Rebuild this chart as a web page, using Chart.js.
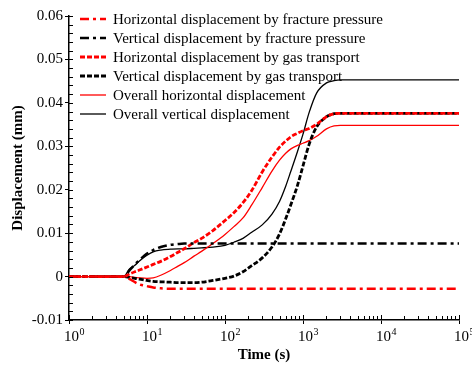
<!DOCTYPE html>
<html>
<head>
<meta charset="utf-8">
<script src="https://cdn.jsdelivr.net/npm/chart.js@4.4.1/dist/chart.umd.min.js"></script>
<style>
  html, body { margin: 0; padding: 0; background: #fff; }
  canvas { display: block; }
</style>
</head>
<body>
<canvas id="chart" width="472" height="368"></canvas>
<script>
// time (s), shared by every curve
const times = [1, 5, 6, 7, 8, 10, 12, 15, 20, 25, 30, 40, 50, 70, 100, 130, 170, 220, 300, 400,
               500, 600, 700, 850, 1000, 1200, 1500, 2000, 2500, 3000, 4000, 100000];

// displacement (mm)
const hFracture = [0, 0, -0.0006, -0.0013, -0.0018, -0.0022, -0.0025, -0.0027, -0.0028, -0.0028,
                   -0.0028, -0.0028, -0.0028, -0.0028, -0.0028, -0.0028, -0.0028, -0.0028, -0.0028, -0.0028,
                   -0.0028, -0.0028, -0.0028, -0.0028, -0.0028, -0.0028, -0.0028, -0.0028, -0.0028, -0.0028,
                   -0.0028, -0.0028];
const vFracture = [0, 0, 0.0015, 0.0028, 0.0038, 0.0053, 0.0061, 0.0068, 0.0073, 0.0075,
                   0.0076, 0.0076, 0.0076, 0.0076, 0.0076, 0.0076, 0.0076, 0.0076, 0.0076, 0.0076,
                   0.0076, 0.0076, 0.0076, 0.0076, 0.0076, 0.0076, 0.0076, 0.0076, 0.0076, 0.0076,
                   0.0076, 0.0076];
const hGas = [0, 0, 0.0006, 0.0011, 0.0015, 0.0022, 0.0028, 0.0035, 0.0046, 0.0056,
              0.0064, 0.0078, 0.0088, 0.0106, 0.0129, 0.0147, 0.0170, 0.0198, 0.0241, 0.0275,
              0.0298, 0.0312, 0.0322, 0.0330, 0.0336, 0.0341, 0.0351, 0.0368, 0.0375, 0.0376,
              0.0376, 0.0376];
const vGas = [0, 0, -0.0002, -0.0004, -0.0006, -0.0009, -0.0011, -0.0012, -0.0013, -0.0014,
              -0.0014, -0.0014, -0.0013, -0.0009, -0.0004, 0.0001, 0.0011, 0.0025, 0.0043, 0.0068,
              0.0098, 0.0133, 0.0166, 0.0210, 0.0255, 0.0305, 0.0345, 0.0368, 0.0375, 0.0376,
              0.0376, 0.0376];
const hTotal = [0, 0, 0, -0.0002, -0.0003, -0.0004, -0.0003, 0.0003, 0.0014, 0.0024,
                0.0032, 0.0047, 0.0058, 0.0076, 0.0097, 0.0115, 0.0135, 0.0165, 0.0205, 0.0243,
                0.0268, 0.0284, 0.0294, 0.0302, 0.0307, 0.0313, 0.0323, 0.0340, 0.0347, 0.0348,
                0.0348, 0.0348];
const vTotal = [0, 0, 0.0018, 0.0026, 0.0036, 0.0049, 0.0057, 0.0061, 0.0063, 0.0064,
                0.0064, 0.0065, 0.0066, 0.0068, 0.0072, 0.0079, 0.0088, 0.0102, 0.0119, 0.0144,
                0.0173, 0.0208, 0.0243, 0.0288, 0.0328, 0.0378, 0.0423, 0.0446, 0.0451, 0.0453,
                0.0453, 0.0453];

const xTicks = [1, 10, 100, 1000, 10000, 100000];
const xExponents = ['0', '1', '2', '3', '4', '5'];
const yTicks = [0.06, 0.05, 0.04, 0.03, 0.02, 0.01, 0, -0.01];

const serif = '"Liberation Serif", "Times New Roman", serif';
const toPoints = (vals) => times.map((t, i) => ({ x: t, y: vals[i] }));

function line(label, vals, color, width, dash) {
    return {
        label: label,
        data: toPoints(vals),
        borderColor: color,
        borderWidth: width,
        borderDash: dash,
        pointRadius: 0,
        fill: false,
        cubicInterpolationMode: 'monotone'
    };
}

// inner ticks + superscript x labels
const axisDecor = {
    id: 'axisDecor',
    afterDraw(chart) {
        const { ctx, chartArea: a } = chart;
        const x = chart.scales.x, y = chart.scales.y;
        ctx.save();
        ctx.strokeStyle = '#000';
        ctx.lineWidth = 1;
        ctx.beginPath();
        for (let i = -5; i <= 30; i++) {
            const py = Math.round(y.getPixelForValue(i * 0.002)) + 0.5;
            ctx.moveTo(a.left, py);
            ctx.lineTo(a.left + 4, py);
        }
        xTicks.forEach((v, k) => {
            const top = k === xTicks.length - 1 ? 1 : 9;
            for (let m = 1; m <= top; m++) {
                const px = Math.round(x.getPixelForValue(v * m)) + 0.5;
                ctx.moveTo(px, a.bottom);
                ctx.lineTo(px, a.bottom - (m === 1 ? 5 : 4));
            }
        });
        ctx.stroke();

        ctx.fillStyle = '#000';
        ctx.textBaseline = 'alphabetic';
        ctx.textAlign = 'left';
        xTicks.forEach((v, k) => {
            const px = x.getPixelForValue(v);
            ctx.font = '15px ' + serif;
            ctx.fillText('10', px - 5, a.bottom + 20.5);
            const w = ctx.measureText('10').width;
            ctx.font = '10px ' + serif;
            ctx.fillText(xExponents[k], px - 5 + w + 0.5, a.bottom + 14.5);
        });
        ctx.restore();
    }
};

// legend drawn inside the plot, from the datasets
const innerLegend = {
    id: 'innerLegend',
    afterDatasetsDraw(chart) {
        const { ctx, chartArea: a } = chart;
        const left = a.left + 11;
        ctx.save();
        ctx.font = '15px ' + serif;
        ctx.textBaseline = 'middle';
        ctx.fillStyle = '#000';
        chart.data.datasets.forEach((ds, i) => {
            const yy = a.top + 3 + i * 19;
            ctx.beginPath();
            ctx.strokeStyle = ds.borderColor;
            ctx.lineWidth = ds.borderWidth;
            ctx.setLineDash(ds.borderDash || []);
            ctx.moveTo(left, yy);
            ctx.lineTo(left + 26, yy);
            ctx.stroke();
            ctx.fillText(ds.label, left + 33, yy + 1);
        });
        ctx.restore();
    }
};

new Chart(document.getElementById('chart').getContext('2d'), {
    type: 'line',
    data: {
        datasets: [
            line('Horizontal displacement by fracture pressure', hFracture, '#ff0000', 2.5, [9, 4, 3, 4]),
            line('Vertical displacement by fracture pressure', vFracture, '#000000', 2.5, [9, 4, 3, 4]),
            line('Horizontal displacement by gas transport', hGas, '#ff0000', 2.8, [5, 2]),
            line('Vertical displacement by gas transport', vGas, '#000000', 2.8, [5, 2]),
            line('Overall horizontal displacement', hTotal, '#ff0000', 1.3, []),
            line('Overall vertical displacement', vTotal, '#000000', 1.3, [])
        ]
    },
    options: {
        responsive: false,
        animation: false,
        layout: { padding: { top: 16, right: 13, left: 0, bottom: 0 } },
        plugins: {
            legend: { display: false },
            tooltip: { enabled: false }
        },
        scales: {
            x: {
                type: 'logarithmic',
                min: 1,
                max: 100000,
                afterBuildTicks: (s) => { s.ticks = xTicks.map(v => ({ value: v })); },
                afterFit: (s) => { s.height = 48; },
                ticks: { display: false },
                grid: { drawOnChartArea: false, color: '#000', tickLength: 4, lineWidth: 1 },
                border: { color: '#000', width: 1.5 },
                title: {
                    display: true,
                    text: 'Time (s)',
                    color: '#000',
                    font: { family: serif, size: 15, weight: 'bold' },
                    padding: { top: 0, bottom: 4 }
                }
            },
            y: {
                min: -0.01,
                max: 0.06,
                afterBuildTicks: (s) => { s.ticks = yTicks.map(v => ({ value: v })); },
                afterFit: (s) => { s.width = 69; },
                ticks: {
                    color: '#000',
                    padding: 2,
                    font: { family: serif, size: 15 },
                    callback: (v) => Math.abs(v) < 1e-9 ? '0' : v.toFixed(2)
                },
                grid: { drawOnChartArea: false, color: '#000', tickLength: 4, lineWidth: 1 },
                border: { color: '#000', width: 1.5 },
                title: {
                    display: true,
                    text: 'Displacement (mm)',
                    color: '#000',
                    font: { family: serif, size: 15, weight: 'bold' },
                    padding: { top: 9, bottom: 0 }
                }
            }
        }
    },
    plugins: [axisDecor, innerLegend]
});
</script>
</body>
</html>
